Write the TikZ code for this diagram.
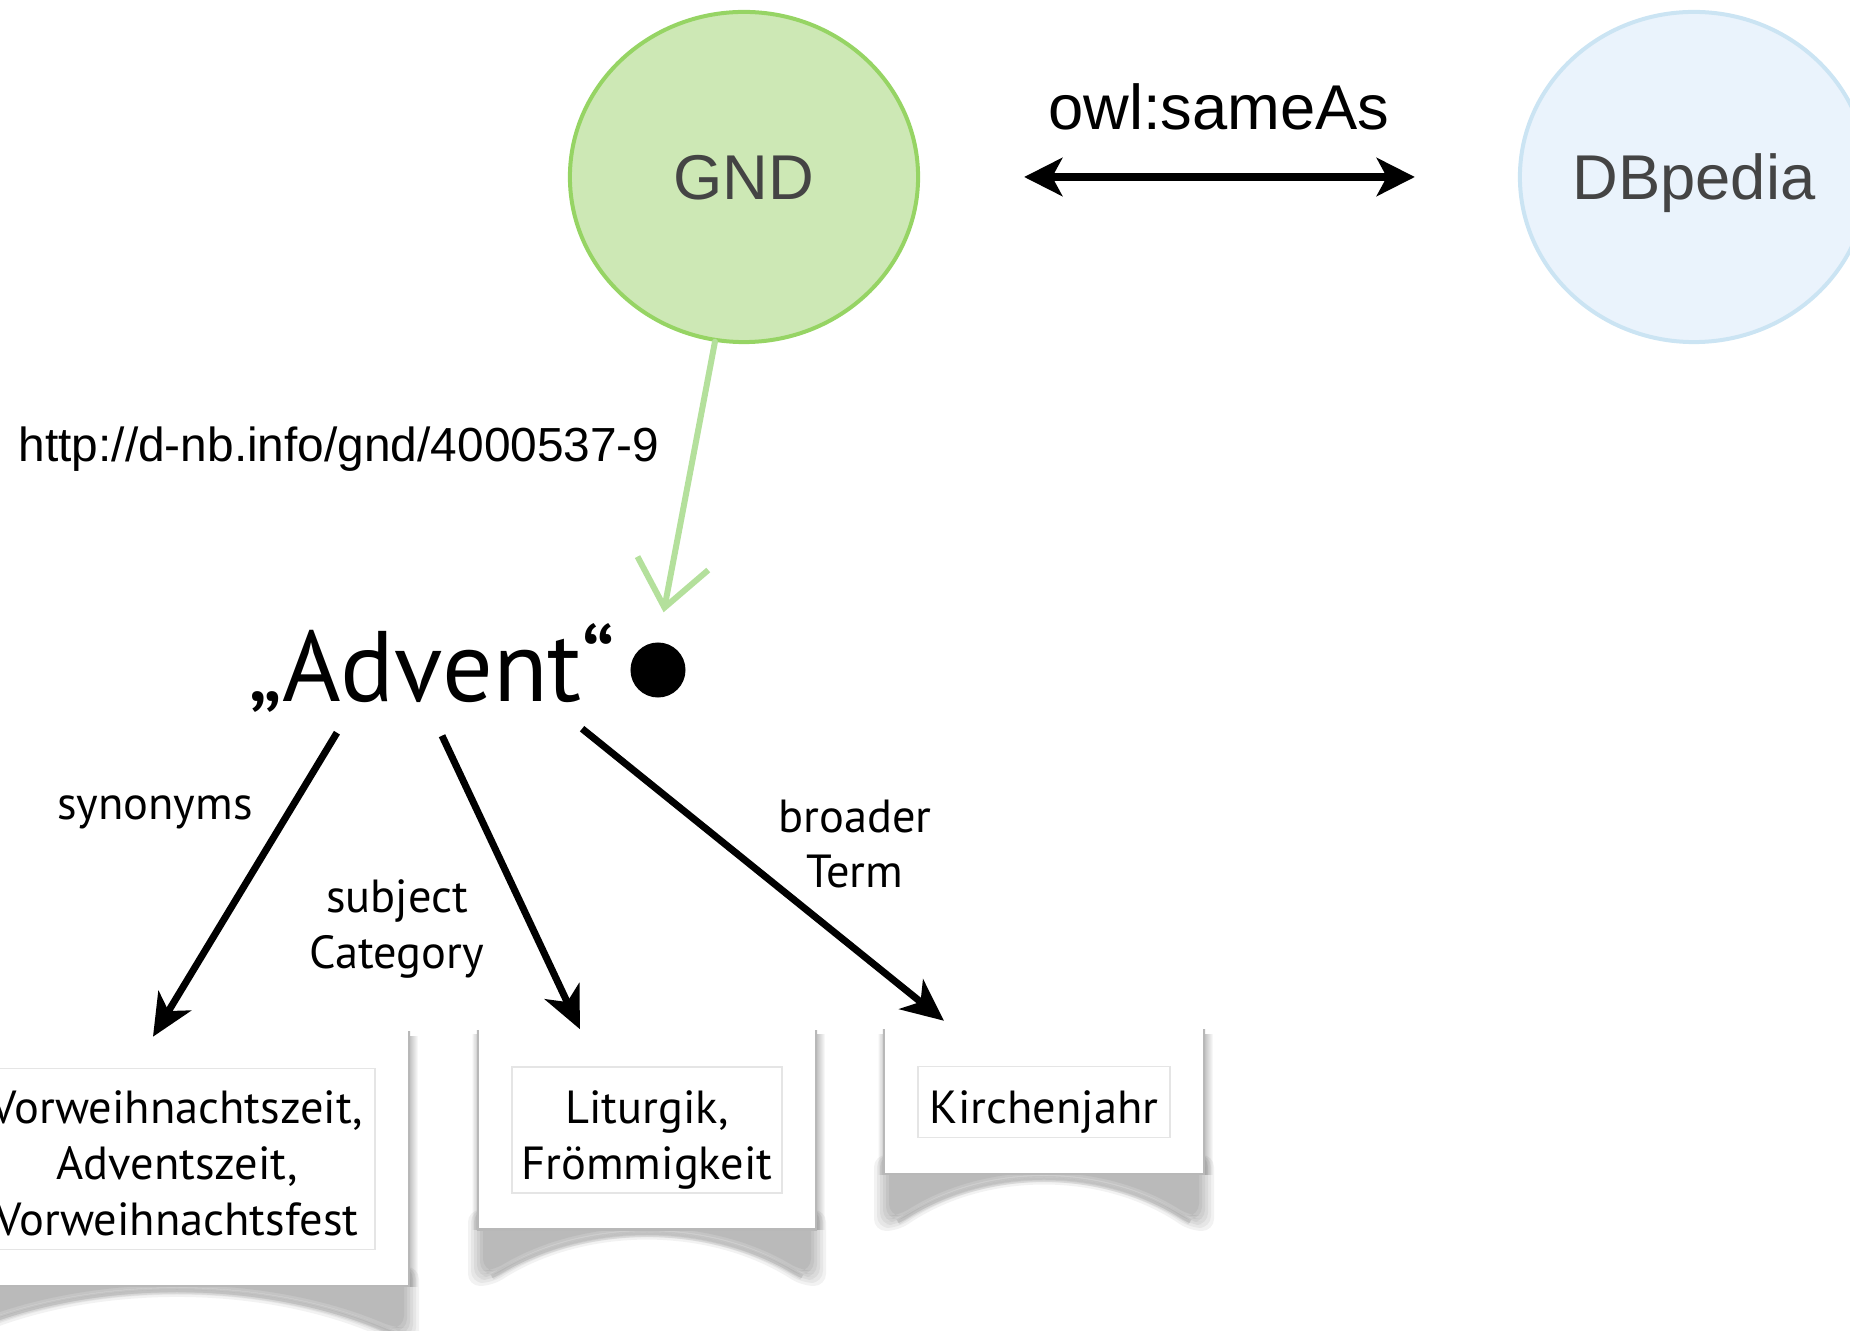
\documentclass[tikz,border=0pt]{standalone}
\usepackage{fontspec}
\setmainfont{PT Sans}
\newfontfamily\helv{Liberation Sans}
\usetikzlibrary{arrows.meta,shapes.geometric}

\definecolor{gndfill}{HTML}{CDE8B5}
\definecolor{gndline}{HTML}{96D464}
\definecolor{dbpfill}{HTML}{EAF3FC}
\definecolor{dbpline}{HTML}{CBE4F3}
\definecolor{linkgreen}{HTML}{B4E09C}
\definecolor{inktext}{HTML}{444444}

\tikzset{
  dataset/.style={ellipse, minimum width=3.48cm, minimum height=3.30cm, inner sep=0pt, line width=0.04cm,
    text=inktext, text depth=0pt, font=\helv\fontsize{18}{22}\selectfont},
  rel/.style={-{Stealth[length=0.42cm,width=0.38cm,inset=0.12cm]}, line width=0.07cm},
  lbl/.style={align=center, inner sep=0pt, font=\fontsize{13.2}{15.9}\selectfont},
  card/.style={fill=white, path picture={
      \draw[black!28, line width=1pt] (path picture bounding box.north west) -- (path picture bounding box.south west)
        -- (path picture bounding box.south east) -- (path picture bounding box.north east);
      \draw[black!10, line width=0.5pt] ([shift={(0.35cm,-0.37cm)}]path picture bounding box.north west)
        rectangle ([shift={(-0.35cm,0.37cm)}]path picture bounding box.south east);}},
  entry/.style={align=center, inner sep=0pt, font=\fontsize{13.2}{15.9}\selectfont},
}

\begin{document}
\begin{tikzpicture}[x=0.01cm, y=-0.01cm]
  \useasboundingbox (0,0) rectangle (1850,1331);
  \clip (0,0) rectangle (1850,1331);
  % the two datasets
  \node[dataset, fill=gndfill, draw=gndline] (gnd) at (744,177) {GND};
  \node[dataset, fill=dbpfill, draw=dbpline] (dbp) at (1694,177) {DBpedia};
  \draw[{Stealth[length=0.38cm,width=0.38cm,inset=0.1cm]}-{Stealth[length=0.38cm,width=0.38cm,inset=0.1cm]},
    line width=0.075cm, shorten <=1.04cm, shorten >=1.03cm] (gnd) -- (dbp)
    node[midway, above=0.43cm, inner sep=0pt, font=\helv\fontsize{18}{22}\selectfont] (same) {owl:sameAs};

  % the resource and its uri
  \node[circle, fill=black, minimum size=0.55cm, inner sep=0pt] (dot) at (658,670) {};
  \node[inner sep=0pt, text height=0.72cm, text depth=0.14cm, anchor=base,
    font=\fontsize{28.5}{34}\selectfont] (advent) at (432,702) {„Advent“};
  \node[anchor=base west, inner sep=0pt, font=\helv\fontsize{13.6}{16}\selectfont] (uri) at (18,462)
    {http://d-nb.info/gnd/4000537-9};
  \draw[linkgreen, line width=0.06cm, line cap=round, -{Straight Barb[length=0.45cm,width=0.72cm]}, shorten >=0.3cm]
    (gnd.260) -- (dot.north);

  % curled shadows under the cards
  \foreach \l/\r/\t/\b in {-56/410/1032/1287, 477/817/1030/1230, 883/1205/1030/1175} {
    \pgfmathsetmacro\w{\r-\l-30}
    \foreach \e in {9,6,3,0,-3,-6} {
      \pgfmathsetmacro\cy{\b+(8*(4+0.8*\e)-2*(47+\e))/6}
      \fill[black, opacity=0.05, rounded corners=0.12cm] ({\l-\e},{\b-20}) -- ({\r+\e},{\b-20})
        -- ({\r+\e},{\b+47+\e}) -- ({\r-15},{\b+47+\e})
        .. controls ({\r-15-0.3*\w},\cy) and ({\l+15+0.3*\w},\cy) .. ({\l+15},{\b+47+\e})
        -- ({\l-\e},{\b+47+\e}) -- cycle;
    }
    \pgfmathsetmacro\cy{\b+(8*4-2*47)/6}
    \foreach \lw in {6,3}
      \draw[black, opacity=0.06, line width=\lw*0.01cm] ({\r-15},{\b+47})
        .. controls ({\r-15-0.3*\w},\cy) and ({\l+15+0.3*\w},\cy) .. ({\l+15},{\b+47});
    \foreach \k in {0,...,7} {
      \fill[black, opacity=0.03] (\r,{\t+4}) rectangle ({\r+8-\k},\b);
      \fill[black, opacity=0.02] (\l,{\t+4}) rectangle ({\l-5+0.6*\k},\b);
    }
  }

  % the cards
  \node[card, minimum width=4.66cm, minimum height=2.55cm] (syn-card) at (177,1159) {};
  \node[card, minimum width=3.40cm, minimum height=2.00cm] (cat-card) at (647,1130) {};
  \node[card, minimum width=3.22cm, minimum height=1.45cm] (bro-card) at (1044,1102) {};
  \node[entry, yshift=-0.04cm] (syn) at (syn-card) {Vorweihnachtszeit,\\Adventszeit,\\Vorweihnachtsfest};
  \node[entry, yshift=-0.1cm] (cat) at (cat-card) {Liturgik,\\Frömmigkeit};
  \node[entry, yshift=-0.1cm] (bro) at (bro-card) {Kirchenjahr};

  % relations
  \draw[rel] ([xshift=-0.95cm,yshift=-0.16cm]advent.south) -- ([xshift=-0.24cm,yshift=-0.06cm]syn-card.north);
  \draw[rel] ([xshift=0.10cm,yshift=-0.19cm]advent.south) -- ([xshift=-0.67cm]cat-card.north);
  \draw[rel] ([xshift=1.50cm,yshift=-0.12cm]advent.south) -- ([xshift=-1.00cm,yshift=0.08cm]bro-card.north);
  \node[lbl, anchor=base] (syn-lbl) at (155,820) {synonyms};
  \node[lbl] (cat-lbl) at (397,929) {subject\\Category};
  \node[lbl] (bro-lbl) at (855,844) {broader\\Term};
\end{tikzpicture}
\end{document}
